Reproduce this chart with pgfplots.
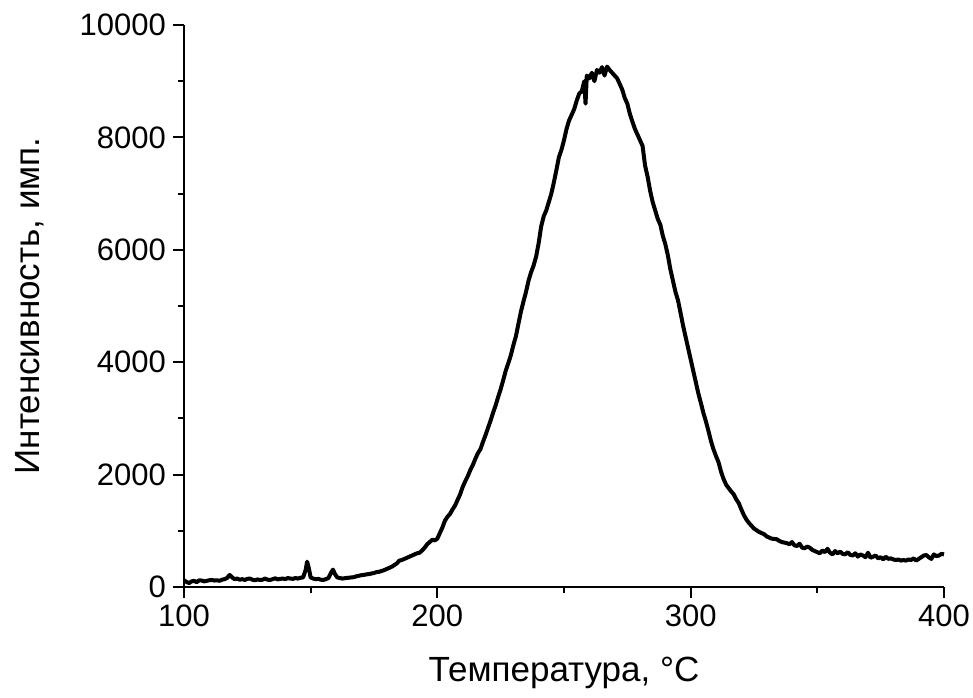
\documentclass[border=0pt]{standalone}
\usepackage{pgfplots}
\pgfplotsset{compat=1.18}
\usepackage{fontspec}
\setmainfont{Liberation Sans}
\pgfplotstableread{
T I
100 120
101 90
102 70
103 100
104 110
105 85
106 120
107 115
108 100
109 110
110 120
111 125
112 115
113 120
114 110
115 130
116 140
117 160
118 215
119 170
120 140
121 150
122 130
123 140
124 125
125 145
126 150
127 130
128 120
129 135
130 125
131 130
132 150
133 130
134 125
135 140
136 155
137 135
138 145
139 150
140 140
141 160
142 150
143 145
144 160
145 150
146 165
147 170
148 300
148.6 450
149.2 350
150 170
151 150
152 140
153 145
154 130
155 125
156 140
157 160
158 250
158.8 310
159.6 230
160.5 170
161.5 160
162.5 150
164 160
165 165
166 170
167 175
168 190
169 200
170 210
171 215
172 225
173 230
174 240
175 250
176 265
177 270
178 285
179 300
180 320
181 340
182 360
183 390
184 420
185 470
186 480
187 500
188 520
189 540
190 560
191 580
192 600
193 610
194 650
195 700
196 760
197 800
198 840
199 830
200 860
201 960
202 1060
203 1180
204 1250
205 1300
206 1380
207 1450
208 1550
209 1650
210 1780
211 1880
212 1970
213 2080
214 2170
215 2280
216 2380
217 2450
218 2580
219 2700
220 2830
221 2960
222 3100
223 3230
224 3380
225 3520
226 3680
227 3850
228 3980
229 4120
230 4300
231 4460
232 4680
233 4900
234 5080
235 5250
236 5450
237 5600
238 5720
239 5880
240 6120
241 6420
242 6600
243 6700
244 6850
245 7000
246 7200
247 7420
248 7650
249 7780
250 7950
251 8150
252 8300
253 8400
254 8500
255 8650
256 8780
257 8820
258 9000
258.5 8600
259 9100
260 9050
261 9150
262 9000
263 9200
264 9150
265 9250
266 9100
267 9260
268 9200
269 9150
270 9100
271 9050
272 8950
273 8850
274 8700
275 8600
276 8420
277 8280
278 8150
279 8050
280 7950
281 7850
282 7500
283 7300
284 7050
285 6850
286 6700
287 6550
288 6450
289 6250
290 6100
291 5900
292 5650
293 5450
294 5250
295 5100
296 4880
297 4650
298 4450
299 4250
300 4050
301 3850
302 3650
303 3450
304 3280
305 3100
306 2950
307 2780
308 2600
309 2450
310 2330
311 2220
312 2050
313 1920
314 1820
315 1760
316 1700
317 1650
318 1560
319 1490
320 1380
321 1280
322 1200
323 1140
324 1090
325 1040
326 1010
327 980
328 960
329 940
330 900
331 880
332 860
334 850
335 820
336 800
337 790
338 780
339 760
340 800
341 740
342 730
343 770
344 700
345 690
346 720
347 700
348 660
349 640
350 620
351 600
352 650
353 620
354 680
355 610
356 580
357 640
358 600
359 630
360 590
361 580
362 620
363 570
364 560
365 600
366 540
367 580
368 560
369 530
370 610
371 520
372 540
373 560
374 510
375 530
376 490
377 540
378 500
379 510
380 490
381 480
382 490
383 470
384 480
385 470
386 490
387 480
388 510
389 470
390 500
391 530
392 560
393 570
394 530
395 500
396 580
397 550
398 560
399 590
400 580
}\datatable
\begin{document}
\begin{tikzpicture}
\begin{axis}[
  scale only axis,
  width=380pt, height=281pt,
  xmin=100, xmax=400, ymin=0, ymax=10000,
  axis lines*=left,
  axis line style={line width=1pt},
  tick style={line width=1pt, black},
  tick align=outside,
  major tick length=5.5pt,
  minor tick length=3pt,
  xtick={100,200,300,400},
  ytick={0,2000,4000,6000,8000,10000},
  minor xtick={150,250,350},
  minor ytick={1000,3000,5000,7000,9000},
  scaled y ticks=false,
  /pgf/number format/assume math mode=true,
  yticklabel style={/pgf/number format/.cd, fixed, 1000 sep={}},
  xticklabel style={/pgf/number format/.cd, fixed, 1000 sep={}},
  ticklabel style={font=\fontsize{15.5}{18}\selectfont},
  label style={font=\fontsize{17.5}{20}\selectfont},
  xlabel={Температура, °C},
  ylabel={Интенсивность, имп.},
  xlabel style={yshift=-8pt},
  ylabel style={yshift=11pt},
  clip=false,
]
\addplot[black, line width=2pt, line join=round] table[x=T, y=I] {\datatable};
\end{axis}
\pgfresetboundingbox
\path[use as bounding box] ([xshift=-92pt,yshift=-55pt]current axis.south west) rectangle ([xshift=14.5pt,yshift=12.5pt]current axis.north east);
\end{tikzpicture}
\end{document}
